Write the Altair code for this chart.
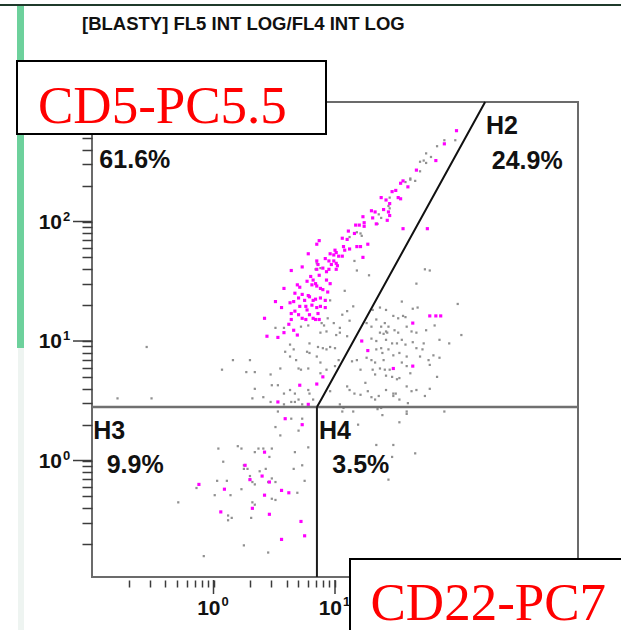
import numpy as np
import pandas as pd
import altair as alt

# ---- gated events: log10 intensities, FL4 (x) and FL5 (y) ----
pink_fl4 = [
    2.00, 1.90, 1.83, 1.67, 1.60, 1.56, 1.54, 1.47, 1.50, 1.52,
    1.54, 1.38, 1.42, 1.40, 1.44, 1.45, 1.30, 1.33, 1.23, 1.31,
    1.45, 1.43, 1.24, 1.20, 1.24, 1.17, 1.11, 1.16, 1.06, 1.56,
    1.76, 1.34, 1.10, 1.27, 1.23, 1.18, 1.21, 1.12, 1.07, 1.08,
    0.85, 0.87, 1.00, 1.01, 0.99, 1.03, 0.96, 0.95, 0.99, 1.01,
    0.97, 1.02, 1.06, 0.92, 0.95, 1.01, 0.85, 0.86, 0.78, 0.73,
    0.90, 0.93, 0.85, 0.87, 0.64, 0.80, 0.82, 0.77, 0.84, 0.81,
    0.85, 0.88, 0.93, 0.96, 0.90, 0.94, 0.69, 0.71, 0.58, 0.67,
    0.73, 0.78, 0.70, 0.75, 0.79, 0.82, 0.84, 0.88, 0.92, 0.51,
    0.63, 0.66, 0.71, 0.76, 0.81, 0.85, 0.88, 0.92, 0.56, 0.67,
    0.64, 0.70, 0.77, 0.79, 0.86, 0.82, 0.64, 0.42, 0.73, 0.76,
    0.87, 0.84, 0.62, 0.58, 0.53, 0.44, 0.66, 0.69, 1.78, 1.83,
    1.87, 1.64, 1.22, 1.27, 1.48, 1.64, 0.90, 0.85, 0.71, 0.53,
    0.78, 0.59, 0.73, 0.42, 0.26, 0.30, 0.40, 0.46, -0.12, 0.09,
    0.42, 0.56, 0.62, 0.32, 0.06, 0.46, 0.72, 0.75, 0.56,
]
pink_fl5 = [
    2.76, 2.65, 2.51, 2.43, 2.29, 2.34, 2.32, 2.25, 2.26, 2.20,
    2.19, 2.20, 2.18, 2.10, 2.08, 2.15, 2.09, 2.08, 2.04, 2.03,
    2.05, 2.01, 1.99, 1.97, 1.96, 1.97, 1.92, 1.90, 1.86, 1.94,
    1.94, 1.98, 1.85, 1.81, 1.70, 1.79, 1.79, 1.77, 1.79, 1.76,
    1.81, 1.84, 1.76, 1.74, 1.72, 1.71, 1.73, 1.67, 1.67, 1.65,
    1.64, 1.63, 1.71, 1.69, 1.60, 1.60, 1.67, 1.64, 1.73, 1.62,
    1.61, 1.58, 1.60, 1.55, 1.59, 1.54, 1.51, 1.50, 1.48, 1.47,
    1.46, 1.44, 1.51, 1.48, 1.43, 1.41, 1.47, 1.45, 1.44, 1.40,
    1.39, 1.38, 1.36, 1.34, 1.37, 1.34, 1.35, 1.36, 1.34, 1.33,
    1.32, 1.33, 1.29, 1.29, 1.30, 1.28, 1.29, 1.28, 1.28, 1.25,
    1.23, 1.22, 1.26, 1.22, 1.23, 1.19, 1.18, 1.19, 1.19, 1.18,
    1.18, 1.18, 1.14, 1.07, 1.03, 1.04, 1.09, 1.05, 1.21, 1.21,
    1.21, 1.15, 1.00, 0.92, 0.77, 0.79, 0.70, 0.64, 0.63, 0.49,
    0.47, 0.35, 0.30, 0.07, -0.04, -0.16, -0.13, -0.18, -0.20, -0.24,
    -0.29, -0.25, -0.27, -0.40, -0.43, -0.45, -0.51, -0.63, -0.66,
]
grey_fl4 = [
    1.99, 1.90, 1.84, 1.75, 1.79, 1.73, 1.70, 1.75, 1.70, 1.62,
    1.62, 1.66, 1.58, 1.45, 1.44, 1.45, 1.36, 1.38, 1.35, 1.18,
    1.21, 1.22, 1.12, 0.85, 0.88, 0.84, 1.16, 1.18, 1.28, 1.08,
    0.96, 1.15, 1.10, 1.06, 0.94, 0.99, 1.12, 0.89, 0.91, 1.04,
    1.04, 0.88, 0.93, 0.72, 0.78, 0.51, 0.58, 1.34, 1.38, 1.42,
    1.44, 1.31, 1.01, 1.10, 2.04, 2.01, 1.74, 1.78, 1.67, 1.55,
    1.37, 1.64, 1.52, 1.68, 1.42, 1.26, 1.30, 1.41, 1.48, 1.56,
    1.58, 1.37, 1.40, 1.43, 1.49, 1.52, 1.59, 1.63, 1.67, 1.75,
    1.82, 1.86, 1.94, 1.30, 1.34, 1.42, 1.47, 1.51, 1.55, 1.58,
    1.64, 1.67, 1.72, 1.73, 1.34, 1.38, 1.39, 1.44, 1.48, 1.53,
    1.59, 1.26, 1.30, 1.33, 1.40, 1.37, 1.41, 1.45, 1.70, 1.77,
    1.81, 1.86, 1.55, 1.59, 1.62, 1.78, 1.84, 1.42, 1.47, 1.51,
    1.53, 1.33, 1.14, 1.18, 1.21, 1.31, 1.10, 1.12, 1.16, 1.25,
    1.42, 1.48, 1.50, 1.59, 1.63, 1.67, 1.78, 1.30, 1.33, 1.48,
    1.04, 1.27, 1.21, 1.36, 1.53, 1.60, 1.74, 0.16, 0.30, 0.07,
    0.27, 0.34, 0.47, 0.55, 0.63, 0.68, 0.70, 0.72, 0.78, 0.59,
    0.63, 0.66, 0.77, 0.79, 0.79, 0.86, 0.90, 0.93, 0.96, 1.00,
    0.85, 0.88, 1.03, 1.00, 0.88, 0.93, 0.48, 0.53, 0.34, 0.58,
    0.63, 0.67, 0.78, 0.79, 0.96, 0.32, 0.41, 0.47, 0.64, 0.70,
    0.82, 0.73, -0.79, -0.51, -0.55, 0.58, 0.67, 1.07, 1.15, 1.06,
    1.38, 1.39, 1.35, 1.59, 1.59, 1.90, 1.53, 1.19, 1.34, 1.48,
    1.47, 1.66, 1.44, 0.04, 0.23, 0.20, 0.34, 0.37, 0.41, 0.48,
    0.46, 0.08, 0.25, 0.25, 0.28, 0.38, 0.43, 0.30, 0.30, 0.32,
    0.34, 0.48, 0.51, 0.45, 0.11, 0.03, -0.14, 0.23, 0.01, 0.14,
    0.48, 0.51, -0.29, 0.32, 0.34, 0.12, 0.15, 0.12, 0.31, 0.25,
    0.67, 0.73, 0.66, 0.75, 0.69, 0.78, 0.53, 0.64, 0.73, 0.51,
    0.55, 0.70, -0.08, 0.45,
]
grey_fl5 = [
    2.68, 2.68, 2.63, 2.57, 2.54, 2.51, 2.50, 2.49, 2.42, 2.36,
    2.35, 2.34, 2.33, 2.20, 2.13, 2.11, 2.06, 2.03, 1.98, 1.91,
    1.90, 1.88, 1.87, 1.65, 1.61, 1.60, 1.67, 1.59, 1.55, 1.42,
    1.34, 1.29, 1.25, 1.22, 1.19, 1.15, 1.17, 1.15, 1.13, 1.11,
    1.07, 1.07, 1.08, 1.12, 1.13, 1.11, 1.11, 1.18, 1.12, 1.08,
    1.12, 1.26, 1.05, 1.04, 1.05, 1.31, 1.60, 1.59, 1.48, 1.33,
    1.28, 1.27, 1.19, 1.28, 1.26, 1.15, 1.12, 1.15, 1.21, 1.21,
    1.20, 1.07, 1.06, 1.07, 1.09, 1.07, 1.12, 1.08, 1.07, 1.09,
    1.13, 1.01, 0.98, 1.02, 1.00, 1.01, 0.98, 0.98, 1.01, 0.97,
    0.99, 0.94, 0.93, 0.98, 0.93, 0.94, 0.90, 0.93, 0.88, 0.90,
    0.87, 0.86, 0.84, 0.82, 0.84, 0.77, 0.76, 0.76, 0.87, 0.84,
    0.88, 0.86, 0.82, 0.79, 0.73, 0.80, 0.70, 0.71, 0.70, 0.68,
    0.69, 0.72, 0.83, 0.84, 0.76, 0.76, 0.62, 0.59, 0.56, 0.65,
    0.59, 0.56, 0.56, 0.62, 0.58, 0.59, 0.60, 0.53, 0.51, 0.54,
    0.47, 0.58, 0.55, 0.54, 0.51, 0.48, 0.54, 0.84, 0.84, 0.76,
    0.74, 0.74, 0.72, 0.77, 0.87, 0.84, 0.77, 0.76, 0.77, 0.91,
    0.97, 0.93, 0.91, 0.98, 0.90, 0.95, 0.94, 0.93, 0.95, 0.94,
    0.87, 0.82, 0.84, 0.79, 0.73, 0.76, 0.63, 0.63, 0.60, 0.56,
    0.59, 0.56, 0.59, 0.56, 0.58, 0.52, 0.53, 0.49, 0.49, 0.51,
    0.51, 0.47, 0.52, 0.52, 0.95, 0.47, 0.49, 0.44, 0.41, 0.41,
    0.44, 0.38, 0.43, 0.41, 0.39, 0.41, 0.32, 0.30, 0.13, 0.13,
    0.03, 0.06, -0.16, 0.10, 0.10, 0.12, 0.07, 0.10, 0.10, 0.10,
    0.03, -0.01, -0.04, -0.07, -0.07, -0.09, -0.07, -0.13, -0.16, -0.18,
    -0.20, -0.15, -0.18, -0.18, -0.17, -0.17, -0.23, -0.24, -0.29, -0.29,
    -0.32, -0.33, -0.35, -0.35, -0.37, -0.46, -0.48, -0.50, -0.48, -0.71,
    0.07, -0.04, -0.07, -0.17, -0.27, 0.11, 0.41, 0.35, 0.35, 0.28,
    0.21, 0.25, -0.80, -0.77,
]

# ---- gates ----
gate_fl4 = 7.1          # vertical split between H3 / H4
gate_fl5 = 2.8          # horizontal split between upper / lower
diag_fl4 = [7.1, 7.74, 172.0]   # H1 / H2 boundary
diag_fl5 = [2.8, 3.27, 1000.0]

region_names = ["H2", "H3", "H4"]
region_pct = ["61.6%", "24.9%", "9.9%", "3.5%"]
# anchor points of the region captions (data units)
name_fl4 = [175.0, 0.1025, 7.38]
name_fl5 = [537.0, 1.50, 1.50]
pct_fl4 = [0.115, 195.0, 0.132, 9.5]
pct_fl5 = [280.0, 273.0, 0.78, 0.79]

# decade labels shown on each axis
y_decades = [1, 10, 100]
y_exponents = ["0", "1", "2"]
x_decades = [1, 10]
x_exponents = ["0", "1"]
major_ticks = [1, 10, 100, 1000]
minor_ticks = [round(m * 10.0 ** e, 6) for e in (-1, 0, 1, 2) for m in range(2, 10)] + [1, 10, 100]

TITLE = "[BLASTY] FL5 INT LOG/FL4 INT LOG"
Y_TAG = "CD5-PC5.5"
X_TAG = "CD22-PC7"

SANS = "Liberation Sans"
SERIF = "Liberation Serif"

W, H = 486, 475

xs = alt.Scale(type="log", domain=[0.1, 1000], nice=False)
ys = alt.Scale(type="log", domain=[0.106, 1000], nice=False)
x_axis = alt.Axis(values=minor_ticks, labels=False, domain=False, grid=False,
                  tickSize=7, tickWidth=1.5, tickColor="#3c3c3c", offset=3, title=None)
y_axis = alt.Axis(values=minor_ticks, labels=False, domain=False, grid=False,
                  tickSize=10, tickWidth=1.5, tickColor="#3c3c3c", title=None)


def X(f):
    return alt.X(f"{f}:Q", scale=xs, axis=x_axis)


def Y(f):
    return alt.Y(f"{f}:Q", scale=ys, axis=y_axis)


one = pd.DataFrame({"k": [0]})

pink = pd.DataFrame({"fl4": 10 ** np.array(pink_fl4), "fl5": 10 ** np.array(pink_fl5)})
grey = pd.DataFrame({"fl4": 10 ** np.array(grey_fl4), "fl5": 10 ** np.array(grey_fl5)})

# page decorations (side bar, top rule)
side_bar = alt.Chart(one).mark_rect(color="#6dd19c").encode(
    x=alt.value(-75), x2=alt.value(-68), y=alt.value(-96), y2=alt.value(246))
side_pale = alt.Chart(one).mark_rect(color="#eef4f1").encode(
    x=alt.value(-74), x2=alt.value(-68), y=alt.value(246), y2=alt.value(H + 60))
top_rule = alt.Chart(one).mark_rect(color="#1f3a2b").encode(
    x=alt.value(-92), x2=alt.value(W + 43), y=alt.value(-98), y2=alt.value(-96))

grey_pts = alt.Chart(grey).mark_square(size=5, color="#8a8a8a", opacity=0.95).encode(
    x=X("fl4"), y=Y("fl5"))
pink_pts = alt.Chart(pink).mark_square(size=10, color="#ff00ff", opacity=1).encode(
    x=X("fl4"), y=Y("fl5"))

h_gate = alt.Chart(pd.DataFrame({"a": [0.1], "b": [1000], "g": [gate_fl5]})).mark_rule(
    color="#707070", strokeWidth=2.5).encode(x=X("a"), x2="b:Q", y=Y("g"))
v_gate = alt.Chart(pd.DataFrame({"g": [gate_fl4], "a": [0.106], "b": [gate_fl5]})).mark_rule(
    color="#1a1a1a", strokeWidth=2).encode(x=X("g"), y=Y("a"), y2="b:Q")
d_gate = alt.Chart(pd.DataFrame({"fl4": diag_fl4, "fl5": diag_fl5, "o": [0, 1, 2]})).mark_line(
    color="#111111", strokeWidth=2).encode(x=X("fl4"), y=Y("fl5"), order="o:Q")

majors = pd.DataFrame({"v": major_ticks})
y_major = alt.Chart(majors).mark_rule(color="#3c3c3c", strokeWidth=1.5).encode(
    y=Y("v"), x=alt.value(-19), x2=alt.value(0))
x_major = alt.Chart(majors).mark_rule(color="#3c3c3c", strokeWidth=1.5).encode(
    x=X("v"), y=alt.value(H + 3), y2=alt.value(H + 17))

ydec = pd.DataFrame({"v": y_decades, "e": y_exponents})
xdec = pd.DataFrame({"v": x_decades, "e": x_exponents})
lab = dict(font=SANS, fontWeight="bold", color="#111111")
y_ten = alt.Chart(ydec).mark_text(align="right", baseline="middle", dy=1, fontSize=21, **lab).encode(
    y=Y("v"), x=alt.value(-30), text=alt.value("10"))
y_exp = alt.Chart(ydec).mark_text(align="left", baseline="middle", dy=-5, fontSize=13, **lab).encode(
    y=Y("v"), x=alt.value(-29), text="e:N")
x_ten = alt.Chart(xdec).mark_text(align="right", baseline="alphabetic", dx=7, fontSize=21, **lab).encode(
    x=X("v"), y=alt.value(H + 38), text=alt.value("10"))
x_exp = alt.Chart(xdec).mark_text(align="left", baseline="alphabetic", dx=8, fontSize=13, **lab).encode(
    x=X("v"), y=alt.value(H + 29), text="e:N")

names = alt.Chart(pd.DataFrame({"x": name_fl4, "y": name_fl5, "t": region_names})).mark_text(
    align="left", baseline="alphabetic", fontSize=25, **lab).encode(x=X("x"), y=Y("y"), text="t:N")
pcts = alt.Chart(pd.DataFrame({"x": pct_fl4, "y": pct_fl5, "t": region_pct})).mark_text(
    align="left", baseline="alphabetic", fontSize=25, **lab).encode(x=X("x"), y=Y("y"), text="t:N")

title = alt.Chart(one).mark_text(align="left", baseline="alphabetic", fontSize=18.5, **lab).encode(
    x=alt.value(-10), y=alt.value(-72.5), text=alt.value(TITLE))

y_box = alt.Chart(one).mark_rect(fill="white", stroke="black", strokeWidth=2).encode(
    x=alt.value(-75), x2=alt.value(234), y=alt.value(-41), y2=alt.value(32))
y_tag = alt.Chart(one).mark_text(align="left", baseline="alphabetic", font=SERIF, fontSize=53,
                                 color="#ff0000").encode(
    x=alt.value(-54), y=alt.value(21), text=alt.value(Y_TAG))
x_box = alt.Chart(one).mark_rect(fill="white", stroke="black", strokeWidth=2).encode(
    x=alt.value(258), x2=alt.value(W + 60), y=alt.value(457), y2=alt.value(H + 70))
x_tag = alt.Chart(one).mark_text(align="left", baseline="alphabetic", font=SERIF, fontSize=53,
                                 color="#ff0000").encode(
    x=alt.value(278.5), y=alt.value(518), text=alt.value(X_TAG))

chart = alt.layer(
    side_bar, side_pale, top_rule,
    grey_pts, pink_pts,
    h_gate, v_gate, d_gate,
    y_major, x_major, y_ten, y_exp, x_ten, x_exp,
    names, pcts, title,
    y_box, y_tag, x_box, x_tag,
).properties(
    width=W, height=H,
    autosize=alt.AutoSizeParams(type="none"),
    padding={"left": 92, "top": 102, "right": 43, "bottom": 53},
    background="white",
).configure_view(stroke="#6b6b6b", strokeWidth=2)

chart.save("out.html", embed_options={"renderer": "svg", "actions": False})
